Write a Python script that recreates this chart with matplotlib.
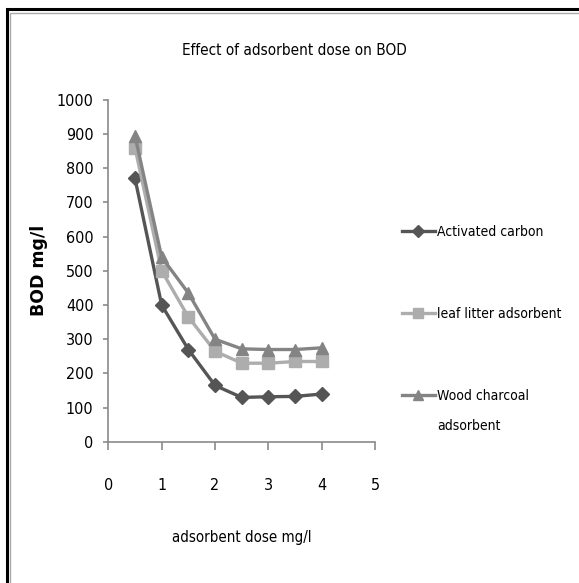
import matplotlib
matplotlib.use("Agg")
import matplotlib.pyplot as plt
from matplotlib.patches import Rectangle

# data
dose = [0.5, 1, 1.5, 2, 2.5, 3, 3.5, 4]
activated_carbon = [770, 400, 270, 165, 130, 132, 133, 140]
leaf_litter = [860, 500, 365, 265, 230, 230, 235, 235]
wood_charcoal = [895, 540, 435, 300, 272, 270, 270, 275]

series_labels = ["Activated carbon", "leaf litter adsorbent", "Wood charcoal adsorbent"]
x_ticks = [0, 1, 2, 3, 4, 5]
y_ticks = list(range(0, 1001, 100))

plt.rcParams["font.family"] = ["DejaVu Sans"]
plt.rcParams["font.stretch"] = "condensed"

fig = plt.figure(figsize=(5.79, 5.83), dpi=100)
ax = fig.add_axes([0.187, 0.242, 0.461, 0.587])

ax.plot(dose, activated_carbon, color="#555555", lw=2.4, marker="D", ms=7.5)
ax.plot(dose, leaf_litter, color="#adadad", lw=2.4, marker="s", ms=8)
ax.plot(dose, wood_charcoal, color="#848484", lw=2.4, marker="^", ms=9)

ax.set_xlim(0, 5)
ax.set_ylim(0, 1000)
ax.set_xticks(x_ticks)
ax.set_yticks(y_ticks)

for side in ["top", "right"]:
    ax.spines[side].set_visible(False)
for side in ["left", "bottom"]:
    ax.spines[side].set_color("#8a8a8a")
    ax.spines[side].set_linewidth(1.2)

ax.tick_params(axis="y", direction="out", length=3.6, width=1.2, color="#8a8a8a",
               pad=7, labelsize=11.5)
ax.tick_params(axis="x", direction="out", length=6, width=1.2, color="#8a8a8a",
               pad=20, labelsize=11.5)

ax.set_xlabel("adsorbent dose mg/l", fontsize=10.8)
ax.xaxis.set_label_coords(0.5, -0.257)
ax.set_ylabel("BOD mg/l", fontsize=12.5, fontweight="bold", fontstretch="normal")
ax.yaxis.set_label_coords(-0.225, 0.5)

fig.text(0.509, 0.914, "Effect of adsorbent dose on BOD", fontsize=11,
         ha="center", va="center")

# legend: the last entry wraps onto a second line under its first line
legend_labels = series_labels[:2] + ["Wood charcoal"]
leg = fig.legend(ax.get_lines(), legend_labels, loc="upper left",
                 bbox_to_anchor=(0.694, 0.614), frameon=False,
                 fontsize=10, handlelength=2.4, handletextpad=0.15,
                 labelspacing=4.9, borderpad=0, borderaxespad=0,
                 markerscale=0.85)
fig.canvas.draw()
last = leg.get_texts()[2].get_window_extent()
x0, y0 = fig.transFigure.inverted().transform((last.x0, last.y0))
fig.text(x0, y0 - 30 / 583, "adsorbent", fontsize=10, ha="left", va="bottom")

# double frame around the picture (thick black + thin grey)
fig.add_artist(Rectangle((0.0115, -0.1), 1.2, 1.084, transform=fig.transFigure,
                         fill=False, edgecolor="black", lw=2.2))
fig.add_artist(Rectangle((0.0175, -0.1), 1.2, 1.078, transform=fig.transFigure,
                         fill=False, edgecolor="#aaaaaa", lw=1.0))

fig.savefig("out.png", dpi=100)
